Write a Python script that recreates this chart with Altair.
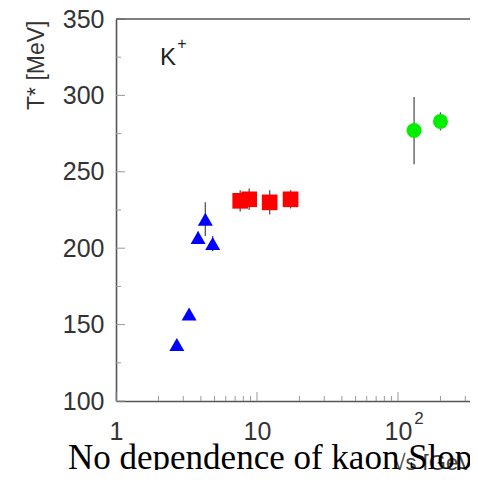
import altair as alt
import pandas as pd

# ---- data ----
ags_sqrt_s = [2.70, 3.30, 3.82, 4.30, 4.85]
ags_T = [137, 157, 207, 219, 203]
ags_err = [3, 3, 4, 11, 5]

sps_sqrt_s = [7.6, 8.8, 12.3, 17.3]
sps_T = [231, 232, 230, 232]
sps_err = [7, 7, 8, 6]

rhic_sqrt_s = [130, 200]
rhic_T = [277, 283]
rhic_err = [22, 6]

x_domain = [1, 324]
y_domain = [100, 350]
x_major = [1, 10, 100]
x_major_labels = ["1", "10", "10"]
x_major_sup = "2"
x_minor = [2, 3, 4, 5, 6, 7, 8, 9, 20, 30, 40, 50, 60, 70, 80, 90, 200, 300]
y_major = [100, 150, 200, 250, 300, 350]
y_minor = [125, 175, 225, 275, 325]

particle_label = "K"
particle_charge = "+"
x_title = "√s [GeV]"
y_title = "T* [MeV]"
caption = "No dependence of kaon Slope on energy"

# ---- tables ----
rows = []
for grp, xs, ts, es in [("AGS", ags_sqrt_s, ags_T, ags_err),
                        ("SPS", sps_sqrt_s, sps_T, sps_err),
                        ("RHIC", rhic_sqrt_s, rhic_T, rhic_err)]:
    for xv, tv, ev in zip(xs, ts, es):
        rows.append({"grp": grp, "x": xv, "y": tv, "lo": tv - ev, "hi": tv + ev})
df = pd.DataFrame(rows)

W, H = 354, 382
AX = "#555555"
TK = "#9a9a9a"
FONT = "Liberation Sans"

xscale = alt.Scale(type="log", domain=x_domain, nice=False)
yscale = alt.Scale(domain=y_domain, nice=False, zero=False)

label_expr = " : ".join(
    [f"datum.value == {v} ? '{l}'" for v, l in zip(x_major, x_major_labels)]
) + " : ''"

xaxis = alt.Axis(values=x_major, labelExpr=label_expr, ticks=False, grid=False,
                 domainColor=AX, domainWidth=1.6, labelFont=FONT, labelFontSize=25,
                 labelColor="#333333", labelPadding=18, labelFlush=False,
                 labelOverlap=False, title=x_title, titleFont=FONT, titleFontSize=22,
                 titleFontWeight="normal", titleColor="#444444", titleX=277, titleY=68,
                 titleAlign="left", titleBaseline="alphabetic", titleAngle=0)
yaxis = alt.Axis(values=y_major, ticks=False, grid=False, domainColor=AX,
                 domainWidth=1.6, labelFont=FONT, labelFontSize=25,
                 labelColor="#333333", labelPadding=12, labelOverlap=False,
                 title=y_title, titleFont=FONT, titleFontSize=23,
                 titleFontWeight="normal", titleColor="#333333", titleAngle=-90,
                 titleX=-73, titleY=1, titleAlign="right",
                 titleBaseline="alphabetic")

X = alt.X("x:Q", scale=xscale, axis=xaxis)
Y = alt.Y("y:Q", scale=yscale, axis=yaxis)

base = alt.Chart(df)

errbars = base.mark_rule(color="#555555", strokeWidth=1.3).encode(
    x=X, y=alt.Y("lo:Q", scale=yscale, axis=yaxis), y2="hi:Q")

ags = base.transform_filter(alt.datum.grp == "AGS").mark_point(
    shape="triangle-up", filled=True, size=225, opacity=1, color="#0000ff",
    strokeWidth=0).encode(x=X, y=Y)
sps = base.transform_filter(alt.datum.grp == "SPS").mark_point(
    shape="square", filled=True, size=245, opacity=1, color="#ff0000",
    strokeWidth=0).encode(x=X, y=Y)
rhic = base.transform_filter(alt.datum.grp == "RHIC").mark_point(
    shape="circle", filled=True, size=225, opacity=1, color="#00ee00",
    strokeWidth=0).encode(x=X, y=Y)

# inward ticks
ymaj = alt.Chart(pd.DataFrame({"y": y_major})).mark_rule(color=TK, strokeWidth=1).encode(
    y=Y, x=alt.value(0), x2=alt.value(9))
ymin = alt.Chart(pd.DataFrame({"y": y_minor})).mark_rule(color=TK, strokeWidth=1).encode(
    y=Y, x=alt.value(0), x2=alt.value(5))
xmaj = alt.Chart(pd.DataFrame({"x": x_major})).mark_rule(color=TK, strokeWidth=1).encode(
    x=X, y=alt.value(H), y2=alt.value(H - 9))
xmin = alt.Chart(pd.DataFrame({"x": x_minor})).mark_rule(color=TK, strokeWidth=1).encode(
    x=X, y=alt.value(H), y2=alt.value(H - 5))

# top frame line
ann = pd.DataFrame({"x": [x_major[-1]]})
topline = alt.Chart(ann).mark_rule(color=AX, strokeWidth=1.6).encode(
    x=alt.value(0), x2=alt.value(W + 2), y=alt.value(0))

sup2 = alt.Chart(ann).mark_text(text=x_major_sup, font=FONT, fontSize=17,
                                color="#333333", align="center", baseline="middle",
                                dx=21).encode(x=X, y=alt.value(H + 18))

ktext = alt.Chart(ann).mark_text(text=particle_label, font=FONT, fontSize=24,
                                 color="#222222", align="left",
                                 baseline="alphabetic").encode(
    x=alt.value(44), y=alt.value(46))
kplus = alt.Chart(ann).mark_text(text=particle_charge, font=FONT, fontSize=16,
                                 color="#222222", align="center",
                                 baseline="middle").encode(
    x=alt.value(66), y=alt.value(25))

captext = alt.Chart(ann).mark_text(text=caption, font="Liberation Serif",
                                   fontSize=35, color="#000000", align="left",
                                   baseline="alphabetic").encode(
    x=alt.value(-48), y=alt.value(450))

chart = alt.layer(ymaj, ymin, xmaj, xmin, topline, errbars, ags, sps, rhic,
                  sup2, ktext, kplus, captext).properties(
    width=W, height=H,
    padding={"left": 108, "top": 11, "right": 0, "bottom": 69},
    autosize=alt.AutoSizeParams(type="none"),
    background="white",
).configure_view(stroke=None)

chart.save("out.html", embed_options={"renderer": "svg", "actions": False})
